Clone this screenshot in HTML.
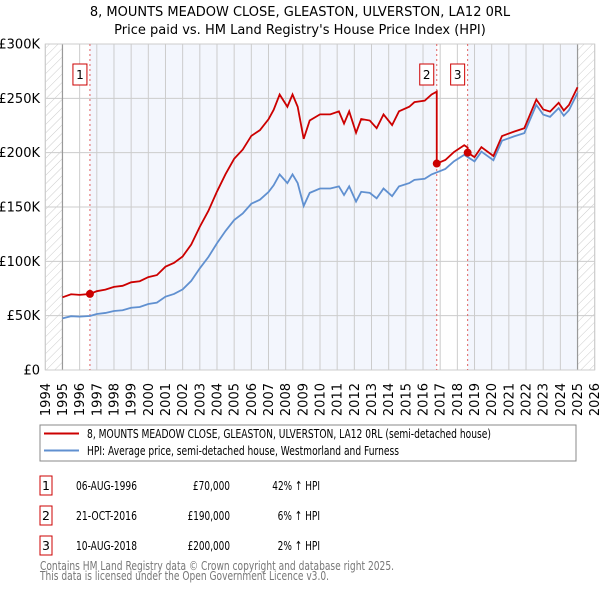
<!DOCTYPE html>
<html><head><meta charset="utf-8"><style>
body{margin:0;background:#fff;width:600px;height:590px;overflow:hidden;font-family:"DejaVu Sans","Liberation Sans",sans-serif;}
svg text{font-family:"DejaVu Sans","Liberation Sans",sans-serif;}
</style></head><body>
<svg id="chart" width="600" height="590" xmlns="http://www.w3.org/2000/svg">
<defs><pattern id="hatch" width="6" height="6" patternUnits="userSpaceOnUse" patternTransform="rotate(45)"><rect width="6" height="6" fill="#fff"/><line x1="0" y1="0" x2="0" y2="6" stroke="#ccc" stroke-width="1"/></pattern></defs>
<text x="300" y="16" text-anchor="middle" font-size="13">8, MOUNTS MEADOW CLOSE, GLEASTON, ULVERSTON, LA12 0RL</text>
<text x="300" y="34" text-anchor="middle" font-size="13">Price paid vs. HM Land Registry's House Price Index (HPI)</text>
<g id="plot"></g>
<rect x="40" y="425" width="536" height="36" fill="#fff" stroke="#888"/>
<line x1="44" y1="433.5" x2="79" y2="433.5" stroke="#cc0000" stroke-width="2"/>
<text x="87" y="438" font-size="12.5" textLength="404" lengthAdjust="spacingAndGlyphs">8, MOUNTS MEADOW CLOSE, GLEASTON, ULVERSTON, LA12 0RL (semi-detached house)</text>
<line x1="44" y1="450.5" x2="79" y2="450.5" stroke="#6090d0" stroke-width="2"/>
<text x="87" y="455" font-size="12.5" textLength="312" lengthAdjust="spacingAndGlyphs">HPI: Average price, semi-detached house, Westmorland and Furness</text>
<g id="table" font-size="12.5"></g>
<text x="40" y="570" font-size="12.5" fill="#777" textLength="354" lengthAdjust="spacingAndGlyphs">Contains HM Land Registry data © Crown copyright and database right 2025.</text>
<text x="40" y="580" font-size="12.5" fill="#777" textLength="289" lengthAdjust="spacingAndGlyphs">This data is licensed under the Open Government Licence v3.0.</text>
</svg>
<script>
const hpiYears=[1995,1995.5,1996,1996.6,1997,1997.5,1998,1998.5,1999,1999.5,2000,2000.5,2001,2001.5,2002,2002.5,2003,2003.5,2004,2004.5,2005,2005.5,2006,2006.5,2007,2007.3,2007.65,2008.1,2008.4,2008.7,2009.05,2009.4,2010,2010.6,2011.1,2011.4,2011.7,2012.1,2012.4,2012.9,2013.3,2013.7,2014.2,2014.6,2015.2,2015.5,2016.1,2016.5,2017.3,2017.8,2018.4,2019,2019.4,2020.1,2020.6,2021.3,2021.9,2022.6,2023,2023.4,2023.9,2024.2,2024.5,2025];
const hpiValues=[47.5,49.5,49.1,49.7,51.5,52.5,54.3,55,57.3,58,60.7,62,67.5,70,74.2,82,93.6,104,116.6,128,138,144,153,156.7,163.8,170,180,172,180,172,151,163,167,167,169,161,169,155,164,163,158,167,160,169,172,175,176,180,185,192,198,192,201,193,211,215,218,244,235,233,241,234,239,255];
const saleYears=[1996.6,2016.8,2018.6];
const salePrices=[70,190,200];
const saleLabels=["1","2","3"];
const saleDates=["06-AUG-1996","21-OCT-2016","10-AUG-2018"];
const salePriceText=["£70,000","£190,000","£200,000"];
const saleHpiText=["42% ↑ HPI","6% ↑ HPI","2% ↑ HPI"];
const yTicks=[0,50,100,150,200,250,300];
const yTickLabels=["£0","£50K","£100K","£150K","£200K","£250K","£300K"];
const xTicks=[1994,1995,1996,1997,1998,1999,2000,2001,2002,2003,2004,2005,2006,2007,2008,2009,2010,2011,2012,2013,2014,2015,2016,2017,2018,2019,2020,2021,2022,2023,2024,2025,2026];

const NS="http://www.w3.org/2000/svg";
const X0=45.3,X1=594.7,Y0=370,Y1=44;
const xs=y=>X0+(y-1994)/32*(X1-X0);
const ys=v=>Y0-v/300*(Y0-Y1);
const plot=document.getElementById('plot');
function mk(tag,attrs,parent){const e=document.createElementNS(NS,tag);for(const k in attrs)e.setAttribute(k,attrs[k]);(parent||plot).appendChild(e);return e;}

let e;
e=mk('rect',{x:X0,y:Y1,width:X1-X0,height:Y0-Y1,fill:'#f3f6fd'});


e=mk('rect',{x:X0,y:Y1,width:xs(1995)-X0,height:Y0-Y1,fill:'url(#hatch)'});


e=mk('rect',{x:xs(2025),y:Y1,width:X1-xs(2025),height:Y0-Y1,fill:'url(#hatch)'});


e=mk('rect',{x:xs(1995),y:Y1,width:xs(saleYears[0])-xs(1995),height:Y0-Y1,fill:'#fff'});


e=mk('rect',{x:xs(saleYears[1]),y:Y1,width:xs(saleYears[2])-xs(saleYears[1]),height:Y0-Y1,fill:'#fff'});



xTicks.forEach(t=>{
  const l=mk('line',{x1:xs(t),x2:xs(t),y1:Y1,y2:Y0,stroke:'#ccc','stroke-width':1});
  
  
  const tx=mk('text',{x:0,y:0,'font-size':13,'text-anchor':'end',transform:`translate(${xs(t)+4.5},383) rotate(-90)`});
  tx.textContent=t;
  
  
});
yTicks.forEach((t,i)=>{
  const l=mk('line',{x1:X0,x2:X1,y1:ys(t),y2:ys(t),stroke:'#ccc','stroke-width':1});
  
  
  const tx=mk('text',{x:40,y:ys(t)+4.5,'font-size':13,'text-anchor':'end'});
  tx.textContent=yTickLabels[i];
  
  
});
e=mk('line',{x1:xs(1995),x2:xs(1995),y1:Y1,y2:Y0,stroke:'#999','stroke-width':1.2});


e=mk('line',{x1:xs(2025),x2:xs(2025),y1:Y1,y2:Y0,stroke:'#999','stroke-width':1.2});


e=mk('rect',{x:X0,y:Y1,width:X1-X0,height:Y0-Y1,fill:'none',stroke:'#ccc'});



saleYears.forEach((s,i)=>{
  const l=mk('line',{x1:xs(s),x2:xs(s),y1:Y1,y2:Y0,stroke:'#e06060','stroke-width':1,'stroke-dasharray':'2,3'});
  
  
  const r=mk('rect',{x:xs(s)-17,y:64,width:14,height:21,fill:'#fff',stroke:'#cc0000'});
  
  
  const t=mk('text',{x:xs(s)-10,y:79,'font-size':12,'text-anchor':'middle'});
  t.textContent=saleLabels[i];
  
  
});

function hpiAt(y){for(let i=1;i<hpiYears.length;i++){if(y<=hpiYears[i]){const f=(y-hpiYears[i-1])/(hpiYears[i]-hpiYears[i-1]);return hpiValues[i-1]+f*(hpiValues[i]-hpiValues[i-1]);}}return hpiValues[hpiValues.length-1];}

e=mk('polyline',{points:hpiYears.map((y,i)=>xs(y)+','+ys(hpiValues[i])).join(' '),fill:'none',stroke:'#6090d0','stroke-width':1.8});



let pts=[];
function ratioFor(idx){return salePrices[idx]/hpiAt(saleYears[idx]);}
let seg=0;
const allYears=[...new Set([...hpiYears,...saleYears])].sort((a,b)=>a-b);
allYears.forEach(y=>{
  while(seg+1<saleYears.length && y>=saleYears[seg+1]){
    pts.push(xs(saleYears[seg+1])+','+ys(hpiAt(saleYears[seg+1])*ratioFor(seg)));
    seg++;
  }
  pts.push(xs(y)+','+ys(hpiAt(y)*ratioFor(seg)));
});
e=mk('polyline',{points:pts.join(' '),fill:'none',stroke:'#cc0000','stroke-width':1.8});



saleYears.forEach((s,i)=>{
  const c=mk('circle',{cx:xs(s),cy:ys(salePrices[i]),r:4,fill:'#cc0000'});
  
  
});

const tbl=document.getElementById('table');
saleLabels.forEach((lab,i)=>{
  const y0=476+i*30;
  const r=mk('rect',{x:40,y:y0,width:12,height:19,fill:'#fff',stroke:'#cc0000'},tbl);
  
  
  const vals=[[46,lab,'middle',0],[137,saleDates[i],'end',61],[230,salePriceText[i],'end',salePriceText[i].length*5.3],[320,saleHpiText[i],'end',saleHpiText[i].length*5.3]];
  vals.forEach(v=>{
    const a={x:v[0],y:y0+14,'text-anchor':v[2]};
    if(v[3]){a.textLength=v[3];a.lengthAdjust='spacingAndGlyphs';}
    const t=mk('text',a,tbl);
    t.textContent=v[1];
    
    
  });
});
</script>
</body></html>
